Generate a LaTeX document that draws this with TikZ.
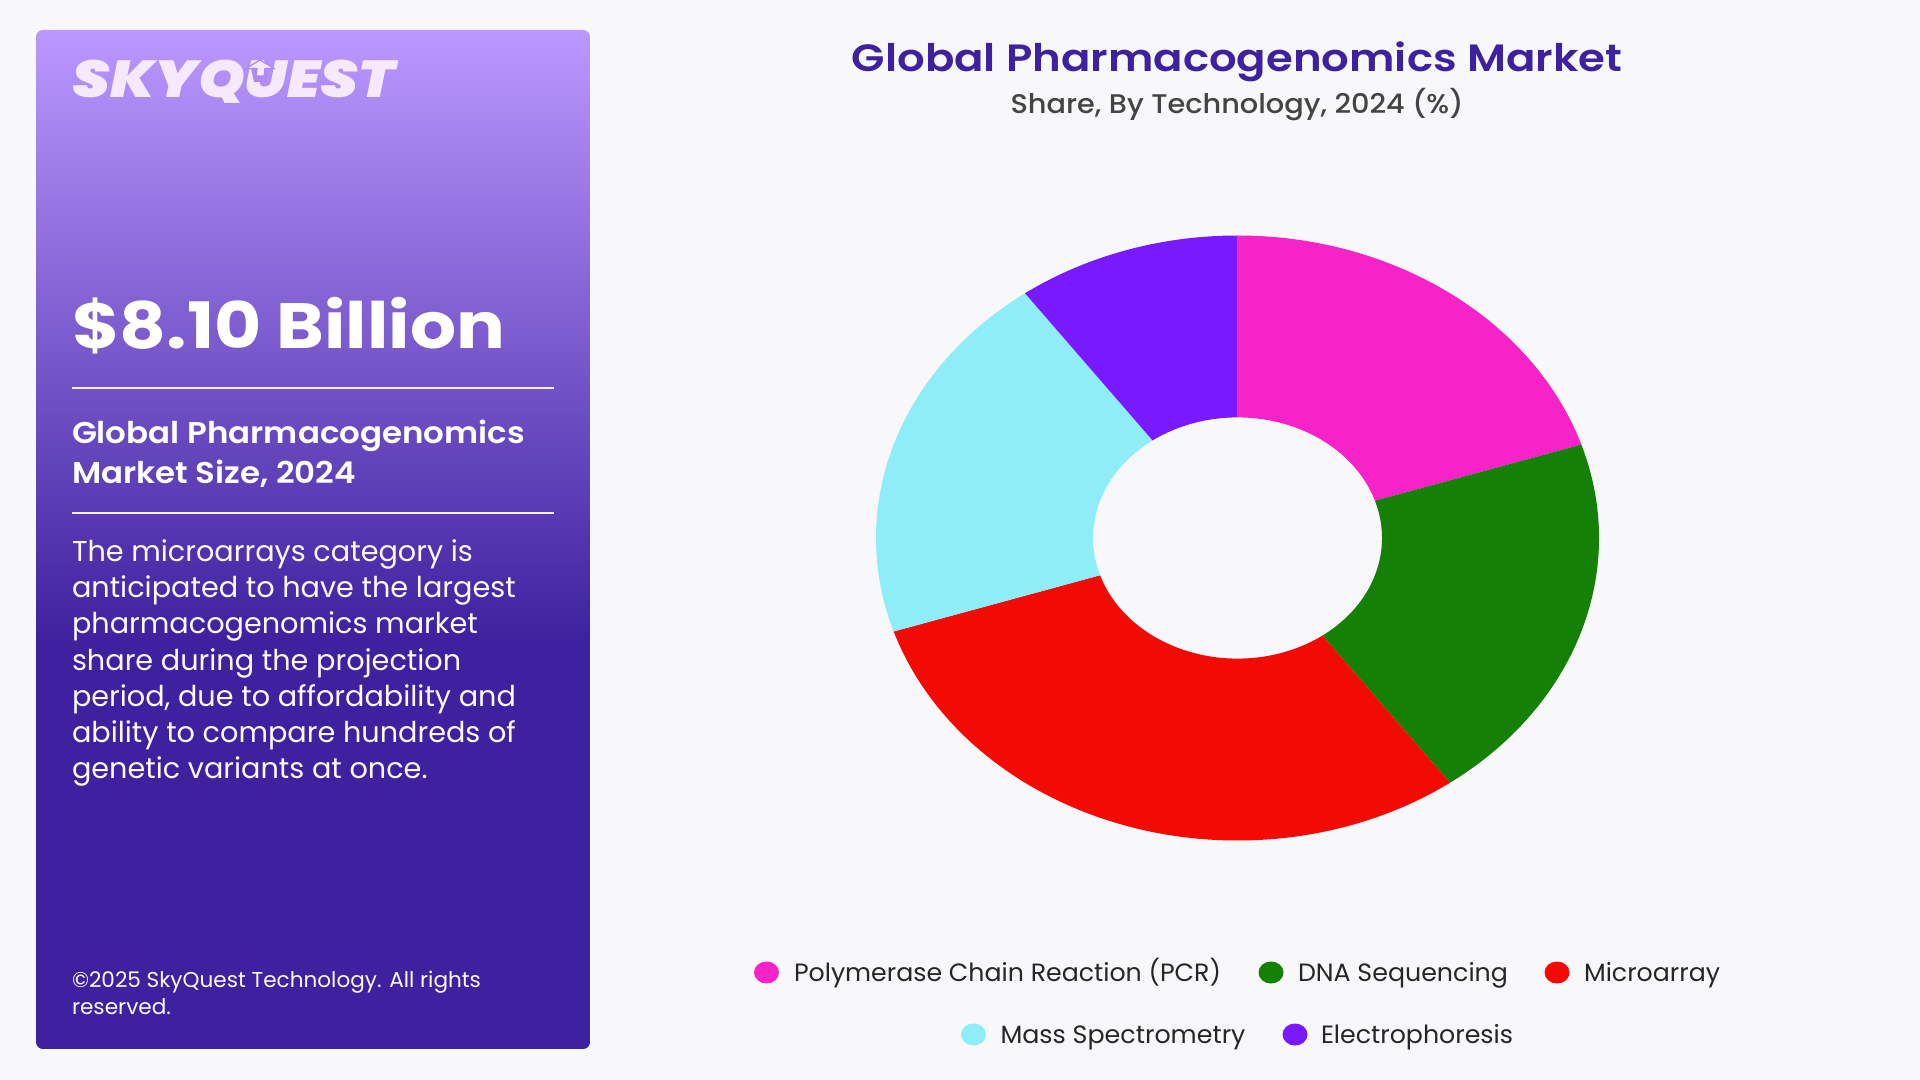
\documentclass[tikz,border=0pt]{standalone}
\usepackage{fontspec}
\usepackage{graphicx}
\setmainfont{Poppins}
\newfontfamily\popsb{Poppins SemiBold}
\newfontfamily\popmd{Poppins Medium}
\newfontfamily\popxb{Poppins Black}[ItalicFont={Poppins Black Italic}]
\definecolor{bgc}{HTML}{F8F8FB}
\definecolor{gtop}{HTML}{BB98FF}
\definecolor{gend}{HTML}{3D219E}
\definecolor{ttl}{HTML}{3D219E}
\definecolor{sub}{HTML}{444444}
\definecolor{cpcr}{HTML}{F722C8}
\definecolor{cdna}{HTML}{148006}
\definecolor{cmic}{HTML}{F30A05}
\definecolor{cmas}{HTML}{8FEDF7}
\definecolor{cele}{HTML}{7819FF}
\definecolor{logoc}{HTML}{F6E8FD}
\definecolor{logob}{HTML}{AE8AF0}
\newcommand{\pxf}[1]{\fontsize{\dimexpr #1pt/2\relax}{\dimexpr #1pt/2\relax}\selectfont}
\newcommand{\fitw}[2]{\resizebox{\dimexpr #1pt/2\relax}{\height}{#2}}
\tikzset{
  x=0.5pt,y=-0.5pt,
  txt/.style={anchor=base west,inner sep=0pt,outer sep=0pt},
  ctr/.style={anchor=base,inner sep=0pt,outer sep=0pt},
  rulel/.style={draw=white!85!gtop,line width=0.75pt},
  dot/.style={ellipse,minimum width=12.5pt,minimum height=11pt,inner sep=0pt},
  leg/.style={txt,text=black!85,font=\pxf{25}}
}
\usetikzlibrary{shapes.geometric}
\begin{document}
\begin{tikzpicture}
\useasboundingbox (0,0) rectangle (1920,1080);
\fill[bgc] (0,0) rectangle (1920,1080);
% panel
\begin{scope}
\clip[rounded corners=3.5pt] (36,30) rectangle (590,1049);
\shade[top color=gtop,bottom color=gend] (36,30) rectangle (590,640);
\fill[gend] (36,639) rectangle (590,1049);
\end{scope}
% logo
\node[txt,text=logoc] (logo) at (72,97.5) {\fitw{323}{\pxf{52}\popxb\itshape SKYQUEST}};
\fill[logob] (251,68) -- (269,68) -- (265,82) -- (254,82) -- cycle;
\fill[logoc,draw=logob,line width=0.6pt,line join=miter] (260,60) -- (274,68.5) -- (265,68.5) -- (264,76) -- (256,76) -- (257,68.5) -- (246,68.5) -- cycle;
\node[txt,text=white] (value) at (72,349) {\fitw{433}{\pxf{64}\bfseries \$8.10 Billion}};
\coordinate (r1a) at (72,388); \coordinate (r1b) at (554,388);
\draw[rulel] (r1a) -- (r1b);
\node[txt,text=white] (h1) at (72,443.5) {\fitw{453}{\pxf{30}\popsb Global Pharmacogenomics}};
\node[txt,text=white] (h2) at (72,483.5) {\fitw{284}{\pxf{30}\popsb Market Size, 2024}};
\coordinate (r2a) at (72,513); \coordinate (r2b) at (554,513);
\draw[rulel] (r2a) -- (r2b);
\foreach \n/\yy/\t in {b1/561/The microarrays category is,b2/597/anticipated to have the largest,b3/633/pharmacogenomics market,b4/670/share during the projection,b5/706/{period, due to affordability and},b6/742/ability to compare hundreds of,b7/778.5/genetic variants at once.}
  \node[txt,text=white!95!gtop] (\n) at (72,\yy) {\pxf{28.7}\t};
\node[txt,text=white!95!gtop] (c1) at (72,987) {\fitw{409}{\pxf{21.5}©2025 SkyQuest Technology. All rights}};
\node[txt,text=white!95!gtop] (c2) at (72,1014) {\fitw{99}{\pxf{21.5}reserved.}};
% titles
\node[ctr,text=ttl] (title) at (1237,72) {\fitw{770}{\pxf{38}\popsb Global Pharmacogenomics Market}};
\node[ctr,text=sub] (subt) at (1237,114) {\fitw{453}{\pxf{27}\popmd Share, By Technology, 2024 (\%)}};
% donut
\coordinate (c) at (1237.5,538);
\foreach \a/\b/\col in {90/18/cpcr,18/-54/cdna,-54/-162/cmic,-162/-234/cmas,-234/-270/cele}
  \fill[\col] ([shift={(\a:180.75pt and 151.25pt)}]c) arc[start angle=\a,end angle=\b,x radius=180.75pt,y radius=151.25pt]
    -- ([shift={(\b:72.25pt and 60.3pt)}]c) arc[start angle=\b,end angle=\a,x radius=72.25pt,y radius=60.3pt] -- cycle;
% legend
\node[dot,fill=cpcr] (d1) at (766.5,972.5) {};
\node[dot,fill=cdna] (d2) at (1271,972.5) {};
\node[dot,fill=cmic] (d3) at (1557,972.5) {};
\node[dot,fill=cmas] (d4) at (973.5,1034.5) {};
\node[dot,fill=cele] (d5) at (1295,1034.5) {};
\node[leg] (l1) at (794,981) {\fitw{427}{Polymerase Chain Reaction (PCR)}};
\node[leg] (l2) at (1298,981) {\fitw{210}{DNA Sequencing}};
\node[leg] (l3) at (1584,981) {\fitw{136}{Microarray}};
\node[leg] (l4) at (1000.5,1043) {\fitw{245}{Mass Spectrometry}};
\node[leg] (l5) at (1321,1043) {\fitw{192}{Electrophoresis}};
\end{tikzpicture}
\end{document}
